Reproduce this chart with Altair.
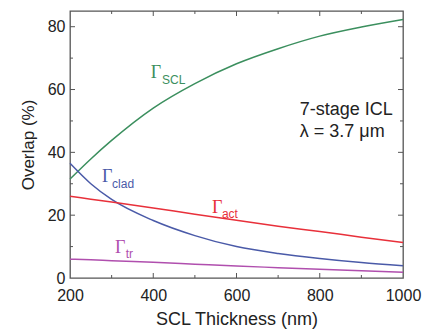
import altair as alt
import pandas as pd

# ---- data ----
thickness = [200, 250, 300, 400, 500, 600, 700, 800, 900, 1000]
gamma_scl = [31.5, 37.9, 43.8, 54.1, 61.9, 68.2, 73.0, 77.0, 79.9, 82.3]
gamma_clad = [36.5, 30.0, 25.0, 18.3, 13.5, 10.0, 7.8, 6.2, 4.9, 3.9]
gamma_act = [26.0, 25.1, 24.2, 22.3, 20.3, 18.4, 16.5, 14.8, 13.0, 11.3]
gamma_tr = [6.0, 5.8, 5.5, 5.0, 4.4, 3.8, 3.3, 2.8, 2.3, 1.8]

series_names = ["SCL", "clad", "act", "tr"]
series_colors = ["#3b8f5e", "#4a5aa8", "#e8303a", "#b04fae"]

x_major = [400, 600, 800]
x_minor = [300, 500, 700, 900]
y_major = [20, 40, 60, 80]
y_minor = [10, 30, 50, 70]
x_labels = [200, 400, 600, 800, 1000]
y_labels = [0, 20, 40, 60, 80]

# annotation labels (Γ part and subscript part), anchored in data units
ann_gamma_x = [394, 277, 541, 308]
ann_gamma_y = [63.7, 30.6, 20.7, 8.0]
ann_sub_x = [421, 301, 565, 334]
ann_sub_y = [61.8, 28.7, 19.1, 6.4]
info_lines = ["7-stage ICL", "λ = 3.7 μm"]
info_x = [752, 752]
info_y = [51.9, 44.9]

W, H = 333, 267
FRAME = "#555555"

rows = []
for name, vals in zip(series_names, [gamma_scl, gamma_clad, gamma_act, gamma_tr]):
    for t, v in zip(thickness, vals):
        rows.append({"t": t, "v": v, "s": name})
df = pd.DataFrame(rows)

xscale = alt.Scale(domain=[200, 1000], nice=False, zero=False)
yscale = alt.Scale(domain=[0, 85], nice=False, zero=False)
cscale = alt.Scale(domain=series_names, range=series_colors)

xaxis = alt.Axis(values=x_labels, format="d", tickSize=0, domain=False, grid=False,
                 labelFlush=False, labelOverlap=False,
                 labelFontSize=16, labelPadding=9, labelColor="#222",
                 labelFont="Liberation Sans", title="SCL Thickness (nm)",
                 titleFontSize=18, titleFont="Liberation Sans",
                 titleFontWeight="normal", titleColor="#222", titlePadding=7)
yaxis = alt.Axis(values=y_labels, format="d", tickSize=0, domain=False, grid=False,
                 labelFlush=False, labelOverlap=False,
                 labelFontSize=16, labelPadding=5, labelColor="#222",
                 labelFont="Liberation Sans", title="Overlap (%)",
                 titleFontSize=17, titleFont="Liberation Sans",
                 titleFontWeight="normal", titleColor="#222", titlePadding=10)


def X(field="t"):
    return alt.X(f"{field}:Q", scale=xscale, axis=xaxis)


def Y(field="v"):
    return alt.Y(f"{field}:Q", scale=yscale, axis=yaxis)


lines = alt.Chart(df).mark_line(strokeWidth=1.5, interpolate="monotone").encode(
    x=X(), y=Y(),
    color=alt.Color("s:N", scale=cscale, legend=None),
    detail="s:N",
)


def xticks(vals, length, top):
    d = pd.DataFrame({"t": vals})
    if top:
        yy, yy2 = alt.value(0), alt.value(length)
    else:
        yy, yy2 = alt.value(H), alt.value(H - length)
    return alt.Chart(d).mark_rule(color=FRAME, strokeWidth=1).encode(
        x=X(), y=yy, y2=yy2)


def yticks(vals, length, right):
    d = pd.DataFrame({"v": vals})
    if right:
        xx, xx2 = alt.value(W), alt.value(W - length)
    else:
        xx, xx2 = alt.value(0), alt.value(length)
    return alt.Chart(d).mark_rule(color=FRAME, strokeWidth=1).encode(
        y=Y(), x=xx, x2=xx2)


ticks = [
    xticks(x_major, 5, False), xticks(x_minor, 3, False),
    xticks(x_major, 5, True), xticks(x_minor, 3, True),
    yticks(y_major, 5, False), yticks(y_minor, 3, False),
    yticks(y_major, 5, True), yticks(y_minor, 3, True),
]

gam_df = pd.DataFrame({"t": ann_gamma_x, "v": ann_gamma_y, "s": series_names})
sub_df = pd.DataFrame({"t": ann_sub_x, "v": ann_sub_y, "s": series_names})
gam = alt.Chart(gam_df).mark_text(text="Γ", font="Liberation Serif", fontSize=18,
                                  align="left", baseline="alphabetic").encode(
    x=X(), y=Y(), color=alt.Color("s:N", scale=cscale, legend=None))
sub = alt.Chart(sub_df).mark_text(font="Liberation Sans", fontSize=12,
                                  align="left", baseline="alphabetic").encode(
    x=X(), y=Y(), text="s:N",
    color=alt.Color("s:N", scale=cscale, legend=None))

info_df = pd.DataFrame({"t": info_x, "v": info_y, "txt": info_lines})
info = alt.Chart(info_df).mark_text(font="Liberation Sans", fontSize=18, align="left",
                                    baseline="alphabetic", color="#222").encode(
    x=X(), y=Y(), text="txt:N")

chart = alt.layer(lines, *ticks, gam, sub, info).properties(
    width=W, height=H,
    autosize=alt.AutoSizeParams(type="none"),
    padding={"left": 70, "top": 11, "right": 22, "bottom": 55},
    background="white",
).configure_view(stroke=FRAME, strokeWidth=1.3)

chart.save("out.html", embed_options={"renderer": "svg", "actions": False})
